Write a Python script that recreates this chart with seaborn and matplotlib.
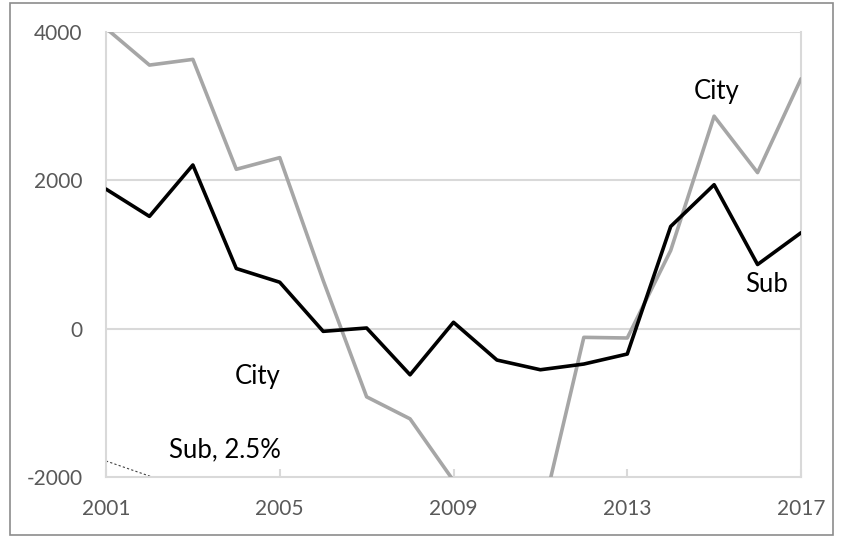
import matplotlib
matplotlib.use("Agg")
import matplotlib.pyplot as plt
import seaborn as sns
import pandas as pd
from matplotlib.patches import Rectangle

years = list(range(2001, 2018))
city = [4050, 3554, 3631, 2149, 2306, 650, -919, -1216, -2050, -3000, -2600,
        -117, -126, 1054, 2865, 2104, 3369]
sub = [1882, 1514, 2207, 811, 626, -36, 9, -622, 86, -423, -554,
       -477, -342, 1378, 1941, 865, 1293]
trend_years = [2001, 2003]
trend_vals = [-1784, -2190]

tick_years = [2001, 2005, 2009, 2013, 2017]
tick_vals = [-2000, 0, 2000, 4000]

df = pd.DataFrame({"year": years * 2,
                   "value": city + sub,
                   "series": ["City"] * len(years) + ["Sub"] * len(years)})
tdf = pd.DataFrame({"year": trend_years, "value": trend_vals})

sns.set_theme(style="white")
plt.rcParams['font.family'] = ['Lato', 'DejaVu Sans']
plt.rcParams['axes.unicode_minus'] = False

fig = plt.figure(figsize=(8.46, 5.39), dpi=100)
ax = fig.add_axes([106/846, 1-477/539, (801-106)/846, (477-32)/539])

grid_c = "#d9d9d9"
for v in tick_vals[1:]:
    ax.axhline(v, color=grid_c, lw=1.5, zorder=0)

sns.lineplot(data=df, x="year", y="value", hue="series",
             palette={"City": "#a6a6a6", "Sub": "#000000"},
             linewidth=2.6, legend=False, ax=ax, zorder=3)
sns.lineplot(data=tdf, x="year", y="value", color="#404040",
             linewidth=0.8, linestyle=(0, (2, 2)), ax=ax, zorder=2)

ax.set_xlim(2001, 2017)
ax.set_ylim(-2000, 4000)
ax.set_xticks(tick_years)
ax.set_yticks(tick_vals)
ax.set_xlabel("")
ax.set_ylabel("")
for s in ["left", "right", "bottom"]:
    ax.spines[s].set_color(grid_c)
    ax.spines[s].set_linewidth(1.5)
ax.spines["top"].set_visible(False)
ax.tick_params(axis="x", direction="in", length=6, width=1.5, color=grid_c,
               pad=16, labelsize=15, labelcolor="#595959", bottom=True)
ax.tick_params(axis="y", length=0, pad=17, labelsize=15, labelcolor="#595959")

txt = dict(fontsize=18.5, color="#000000", ha="center", va="center")
ax.text(2015.05, 3200, "City", **txt)
ax.text(2016.2, 600, "Sub", **txt)
ax.text(2004.5, -640, "City", **txt)
ax.text(2003.74, -1640, "Sub, 2.5%", **txt)

fig.patches.append(Rectangle((10/846, 1-535/539), (833-10)/846, (535-3)/539,
                             transform=fig.transFigure, fill=False,
                             edgecolor="#8c8c8c", lw=1.2))
fig.savefig("out.png", dpi=100)
